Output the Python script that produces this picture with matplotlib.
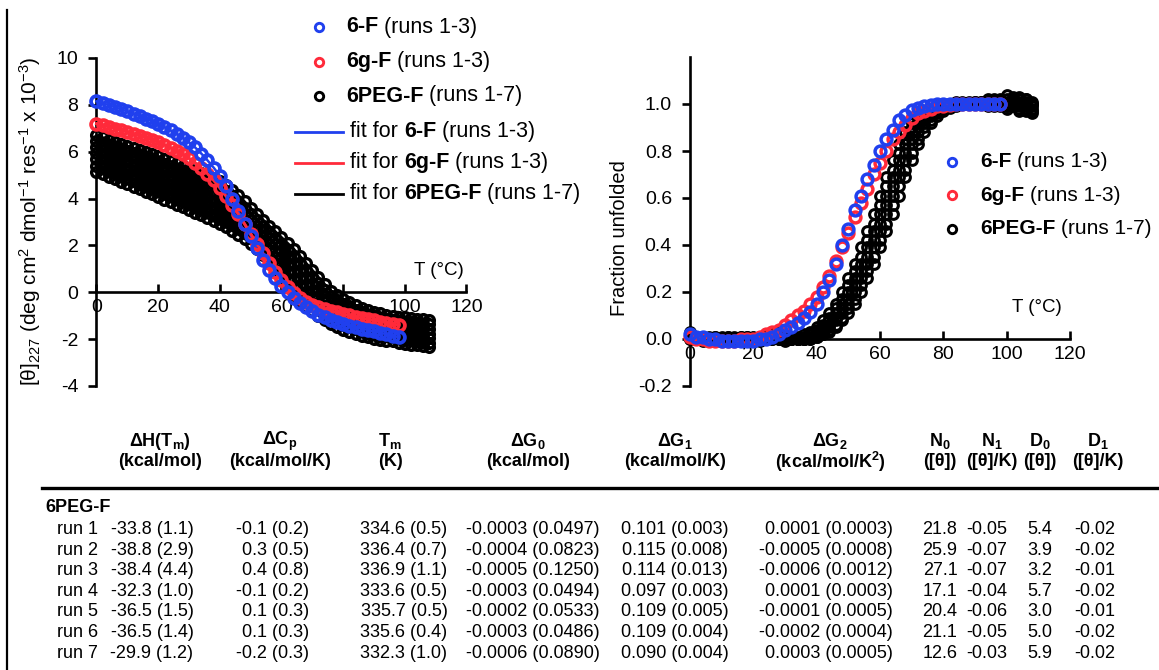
import matplotlib
matplotlib.use('Agg')
import matplotlib.pyplot as plt
from matplotlib.lines import Line2D
from matplotlib.offsetbox import AnnotationBbox, HPacker, TextArea

plt.rcParams['font.family'] = ['Liberation Sans', 'DejaVu Sans']
plt.rcParams['mathtext.fontset'] = 'custom'
plt.rcParams['mathtext.rm'] = 'Liberation Sans'
plt.rcParams['mathtext.it'] = 'Liberation Sans:italic'
plt.rcParams['mathtext.bf'] = 'Liberation Sans:bold'

# temperatures (degC) of the melts
temps_f = [0, 2, 4, 6, 8, 10, 12, 14, 16, 18, 20, 22, 24, 26, 28, 30, 32, 34, 36, 38,
           40, 42, 44, 46, 48, 50, 52, 54, 56, 58, 60, 62, 64, 66, 68, 70, 72, 74, 76, 78,
           80, 82, 84, 86, 88, 90, 92, 94, 96, 98]
temps_peg = temps_f + [100, 102, 104, 106, 108]

# mean residue ellipticity at 227 nm (x 10^-3)
theta_6f = [8.15, 8.07, 7.99, 7.90, 7.81, 7.72, 7.62, 7.52, 7.41, 7.30,
            7.18, 7.05, 6.91, 6.76, 6.59, 6.40, 6.18, 5.92, 5.63, 5.32,
            4.97, 4.52, 4.00, 3.47, 2.93, 2.42, 1.87, 1.39, 0.97, 0.60,
            0.28, 0.01, -0.24, -0.46, -0.64, -0.80, -0.95, -1.07, -1.17, -1.27,
            -1.35, -1.42, -1.49, -1.55, -1.61, -1.67, -1.73, -1.79, -1.85, -1.92]
theta_6gf = [7.20, 7.13, 7.06, 6.99, 6.92, 6.84, 6.76, 6.68, 6.59, 6.50,
             6.40, 6.29, 6.17, 6.04, 5.89, 5.72, 5.53, 5.31, 5.06, 4.78,
             4.46, 4.11, 3.73, 3.33, 2.92, 2.50, 2.08, 1.66, 1.25, 0.88,
             0.52, 0.22, -0.05, -0.24, -0.40, -0.53, -0.63, -0.71, -0.79, -0.86,
             -0.93, -0.99, -1.05, -1.10, -1.15, -1.20, -1.25, -1.30, -1.35, -1.40]
theta_peg_1 = [6.70, 6.61, 6.52, 6.43, 6.34, 6.25, 6.16, 6.07, 5.98, 5.89, 5.80, 5.70, 5.60, 5.50,
               5.40, 5.30, 5.19, 5.08, 4.97, 4.86, 4.75, 4.58, 4.38, 4.15, 3.88, 3.60, 3.35, 3.10,
               2.85, 2.60, 2.35, 2.10, 1.85, 1.55, 1.25, 0.95, 0.65, 0.35, 0.07, -0.12, -0.28, -0.42,
               -0.55, -0.66, -0.75, -0.83, -0.90, -0.95, -1.00, -1.04, -1.07, -1.10, -1.12, -1.15, -1.17]
theta_peg_2 = [6.44, 6.35, 6.25, 6.16, 6.07, 5.98, 5.88, 5.79, 5.70, 5.61, 5.51, 5.41, 5.31, 5.21,
               5.11, 5.00, 4.89, 4.78, 4.67, 4.56, 4.44, 4.28, 4.09, 3.87, 3.61, 3.35, 3.10, 2.85,
               2.59, 2.33, 2.06, 1.79, 1.53, 1.23, 0.94, 0.66, 0.38, 0.10, -0.17, -0.35, -0.50, -0.63,
               -0.75, -0.86, -0.95, -1.02, -1.09, -1.14, -1.18, -1.23, -1.26, -1.29, -1.31, -1.34, -1.37]
theta_peg_3 = [6.18, 6.09, 5.99, 5.89, 5.80, 5.70, 5.61, 5.51, 5.41, 5.32, 5.22, 5.12, 5.02, 4.91,
               4.81, 4.71, 4.59, 4.48, 4.37, 4.25, 4.13, 3.98, 3.79, 3.59, 3.35, 3.09, 2.85, 2.60,
               2.33, 2.05, 1.76, 1.47, 1.20, 0.91, 0.63, 0.36, 0.10, -0.16, -0.40, -0.57, -0.72, -0.84,
               -0.96, -1.06, -1.14, -1.21, -1.27, -1.32, -1.37, -1.41, -1.45, -1.48, -1.50, -1.54, -1.56]
theta_peg_4 = [5.93, 5.83, 5.72, 5.63, 5.53, 5.43, 5.33, 5.23, 5.13, 5.04, 4.94, 4.83, 4.73, 4.62,
               4.52, 4.41, 4.30, 4.18, 4.06, 3.95, 3.83, 3.67, 3.50, 3.31, 3.08, 2.84, 2.61, 2.35,
               2.08, 1.78, 1.47, 1.16, 0.88, 0.59, 0.32, 0.07, -0.18, -0.42, -0.64, -0.80, -0.94, -1.06,
               -1.16, -1.26, -1.34, -1.41, -1.46, -1.51, -1.55, -1.60, -1.64, -1.67, -1.70, -1.73, -1.76]
theta_peg_5 = [5.67, 5.56, 5.46, 5.36, 5.26, 5.16, 5.05, 4.95, 4.85, 4.75, 4.65, 4.54, 4.43, 4.33,
               4.22, 4.11, 4.00, 3.88, 3.76, 3.64, 3.52, 3.37, 3.21, 3.02, 2.81, 2.59, 2.36, 2.10,
               1.82, 1.50, 1.17, 0.85, 0.55, 0.26, 0.00, -0.23, -0.45, -0.67, -0.88, -1.03, -1.16, -1.27,
               -1.36, -1.45, -1.53, -1.60, -1.65, -1.69, -1.73, -1.78, -1.82, -1.85, -1.89, -1.92, -1.96]
theta_peg_6 = [5.41, 5.30, 5.19, 5.09, 4.99, 4.88, 4.78, 4.67, 4.56, 4.47, 4.36, 4.25, 4.14, 4.03,
               3.93, 3.82, 3.70, 3.58, 3.46, 3.34, 3.21, 3.07, 2.91, 2.74, 2.55, 2.33, 2.11, 1.85,
               1.56, 1.23, 0.88, 0.53, 0.23, -0.06, -0.31, -0.53, -0.73, -0.93, -1.11, -1.26, -1.38, -1.48,
               -1.57, -1.65, -1.73, -1.79, -1.83, -1.88, -1.92, -1.97, -2.01, -2.04, -2.08, -2.12, -2.15]
theta_peg_7 = [5.15, 5.04, 4.93, 4.82, 4.72, 4.61, 4.50, 4.39, 4.28, 4.18, 4.07, 3.96, 3.85, 3.74,
               3.63, 3.52, 3.40, 3.28, 3.16, 3.03, 2.90, 2.77, 2.62, 2.46, 2.28, 2.08, 1.86, 1.60,
               1.30, 0.95, 0.58, 0.22, -0.10, -0.38, -0.62, -0.82, -1.00, -1.18, -1.35, -1.48, -1.60, -1.69,
               -1.77, -1.85, -1.92, -1.98, -2.02, -2.06, -2.10, -2.15, -2.20, -2.23, -2.27, -2.31, -2.35]

# fraction unfolded
frac_6f = [0.02, 0.01, 0.01, 0.00, 0.00, -0.01, -0.01, -0.01, -0.01, -0.01,
           -0.01, 0.00, 0.00, 0.01, 0.02, 0.04, 0.05, 0.07, 0.09, 0.115,
           0.15, 0.20, 0.25, 0.32, 0.40, 0.47, 0.55, 0.61, 0.68, 0.74,
           0.80, 0.85, 0.89, 0.93, 0.955, 0.975, 0.985, 0.99, 0.995, 1.00,
           1.00, 1.00, 1.00, 1.00, 1.00, 1.00, 1.00, 1.00, 1.00, 1.00]
frac_6gf = [0.01, 0.00, 0.00, -0.01, -0.01, -0.01, -0.01, -0.01, 0.00, 0.00,
            0.00, 0.01, 0.02, 0.03, 0.04, 0.06, 0.08, 0.10, 0.12, 0.15,
            0.18, 0.22, 0.27, 0.33, 0.39, 0.45, 0.52, 0.58, 0.64, 0.70,
            0.75, 0.80, 0.85, 0.88, 0.91, 0.94, 0.96, 0.97, 0.98, 0.99,
            0.99, 0.995, 1.00, 1.00, 1.00, 1.00, 1.00, 1.00, 1.00, 1.00]
frac_peg_1 = [0.03, 0.01, 0.00, -0.01, 0.00, 0.01, 0.00, -0.01, 0.00, 0.01, 0.00, 0.01, 0.02, 0.00,
              0.01, 0.00, 0.01, 0.01, 0.02, 0.03, 0.05, 0.08, 0.11, 0.15, 0.20, 0.26, 0.32, 0.39,
              0.46, 0.53, 0.61, 0.69, 0.76, 0.83, 0.88, 0.92, 0.95, 0.97, 0.98, 0.99, 1.00, 1.00,
              1.01, 1.00, 1.00, 1.01, 1.00, 0.99, 1.01, 1.02, 0.99, 1.00, 1.03, 0.98, 1.00]
frac_peg_2 = [0.01, 0.00, 0.01, 0.00, -0.01, 0.00, 0.01, 0.00, -0.01, 0.00, 0.01, 0.00, 0.01, 0.03,
              0.01, 0.00, 0.00, 0.00, 0.01, 0.02, 0.04, 0.06, 0.09, 0.13, 0.17, 0.23, 0.29, 0.35,
              0.42, 0.49, 0.57, 0.65, 0.72, 0.79, 0.85, 0.90, 0.93, 0.96, 0.98, 0.99, 1.00, 1.00,
              1.00, 1.01, 1.00, 1.00, 1.01, 1.02, 1.00, 0.99, 1.04, 1.01, 0.99, 1.02, 0.97]
frac_peg_3 = [0.02, 0.01, 0.00, 0.00, 0.01, -0.01, 0.00, 0.01, 0.00, 0.00, -0.01, 0.01, 0.02, 0.01,
              0.00, -0.01, 0.00, 0.00, 0.01, 0.02, 0.03, 0.05, 0.08, 0.11, 0.15, 0.20, 0.26, 0.32,
              0.39, 0.46, 0.53, 0.61, 0.69, 0.76, 0.83, 0.88, 0.92, 0.95, 0.97, 0.98, 0.99, 1.00,
              1.00, 1.00, 1.01, 1.00, 1.00, 1.01, 0.99, 1.01, 1.00, 1.03, 0.98, 1.01, 0.99]
frac_peg_4 = [0.00, 0.01, 0.00, -0.01, 0.00, 0.00, 0.01, 0.00, -0.01, 0.00, 0.00, 0.01, 0.00, 0.02,
              0.03, 0.01, 0.00, 0.00, 0.00, 0.01, 0.02, 0.04, 0.06, 0.09, 0.13, 0.17, 0.23, 0.29,
              0.35, 0.42, 0.49, 0.57, 0.65, 0.72, 0.79, 0.85, 0.90, 0.93, 0.96, 0.98, 0.99, 1.00,
              1.00, 1.00, 1.00, 1.01, 1.00, 1.00, 1.02, 1.00, 0.98, 1.02, 1.00, 0.97, 1.01]
frac_peg_5 = [0.01, 0.00, -0.01, 0.00, 0.01, 0.00, -0.01, 0.00, 0.01, 0.00, 0.00, -0.01, 0.00, 0.01,
              0.02, 0.01, 0.00, 0.00, 0.00, 0.01, 0.02, 0.03, 0.05, 0.08, 0.11, 0.15, 0.20, 0.26,
              0.32, 0.39, 0.46, 0.53, 0.61, 0.69, 0.76, 0.83, 0.88, 0.92, 0.95, 0.97, 0.985, 0.99,
              1.00, 1.00, 1.00, 1.00, 1.01, 1.00, 1.00, 1.01, 1.02, 0.99, 1.01, 1.00, 0.98]
frac_peg_6 = [0.00, 0.00, 0.01, 0.00, 0.00, -0.01, 0.00, 0.00, 0.01, 0.00, -0.01, 0.00, 0.00, 0.01,
              0.00, 0.00, 0.00, 0.00, 0.00, 0.00, 0.01, 0.02, 0.04, 0.06, 0.09, 0.13, 0.17, 0.23,
              0.29, 0.35, 0.42, 0.49, 0.57, 0.65, 0.72, 0.79, 0.85, 0.90, 0.93, 0.96, 0.98, 0.99,
              1.00, 1.00, 1.00, 1.00, 1.00, 1.01, 1.00, 1.00, 1.01, 1.00, 0.97, 1.02, 1.00]
frac_peg_7 = [0.01, 0.00, 0.00, 0.01, 0.00, 0.00, -0.01, 0.00, 0.00, 0.01, 0.00, 0.00, 0.01, 0.00,
              0.00, 0.01, 0.00, 0.00, 0.00, 0.00, 0.01, 0.02, 0.03, 0.05, 0.08, 0.11, 0.15, 0.20,
              0.26, 0.32, 0.39, 0.46, 0.53, 0.61, 0.69, 0.76, 0.83, 0.88, 0.92, 0.95, 0.97, 0.985,
              0.99, 1.00, 1.00, 1.00, 1.00, 1.00, 1.01, 1.00, 0.99, 1.01, 1.02, 0.99, 0.96]

theta_peg = [theta_peg_1, theta_peg_2, theta_peg_3, theta_peg_4, theta_peg_5, theta_peg_6, theta_peg_7]
frac_peg = [frac_peg_1, frac_peg_2, frac_peg_3, frac_peg_4, frac_peg_5, frac_peg_6, frac_peg_7]

# fit parameters table, 6PEG-F
run_labels = ['run 1', 'run 2', 'run 3', 'run 4', 'run 5', 'run 6', 'run 7']
dH = ['-33.8 (1.1)', '-38.8 (2.9)', '-38.4 (4.4)', '-32.3 (1.0)', '-36.5 (1.5)', '-36.5 (1.4)', '-29.9 (1.2)']
dCp = ['-0.1 (0.2)', '0.3 (0.5)', '0.4 (0.8)', '-0.1 (0.2)', '0.1 (0.3)', '0.1 (0.3)', '-0.2 (0.3)']
Tm = ['334.6 (0.5)', '336.4 (0.7)', '336.9 (1.1)', '333.6 (0.5)', '335.7 (0.5)', '335.6 (0.4)', '332.3 (1.0)']
dG0 = ['-0.0003 (0.0497)', '-0.0004 (0.0823)', '-0.0005 (0.1250)', '-0.0003 (0.0494)',
       '-0.0002 (0.0533)', '-0.0003 (0.0486)', '-0.0006 (0.0890)']
dG1 = ['0.101 (0.003)', '0.115 (0.008)', '0.114 (0.013)', '0.097 (0.003)', '0.109 (0.005)',
       '0.109 (0.004)', '0.090 (0.004)']
dG2 = ['0.0001 (0.0003)', '-0.0005 (0.0008)', '-0.0006 (0.0012)', '0.0001 (0.0003)',
       '-0.0001 (0.0005)', '-0.0002 (0.0004)', '0.0003 (0.0005)']
N0 = ['21.8', '25.9', '27.1', '17.1', '20.4', '21.1', '12.6']
N1 = ['-0.05', '-0.07', '-0.07', '-0.04', '-0.06', '-0.05', '-0.03']
D0 = ['5.4', '3.9', '3.2', '5.7', '3.0', '5.0', '5.9']
D1 = ['-0.02', '-0.02', '-0.01', '-0.02', '-0.01', '-0.02', '-0.02']
headers_top = [r'ΔH(T$_\mathbf{m}$)', r'ΔC$_\mathbf{p}$', r'T$_\mathbf{m}$', r'ΔG$_\mathbf{0}$',
               r'ΔG$_\mathbf{1}$', r'ΔG$_\mathbf{2}$', r'N$_\mathbf{0}$', r'N$_\mathbf{1}$',
               r'D$_\mathbf{0}$', r'D$_\mathbf{1}$']
headers_units = ['(kcal/mol)', '(kcal/mol/K)', '(K)', '(kcal/mol)', '(kcal/mol/K)',
                 r'(kcal/mol/K$^\mathbf{2}$)', '([θ])', '([θ]/K)', '([θ])', '([θ]/K)']

BLUE = '#2040ee'
RED = '#ff2a3a'
W, H = 1159, 670


def fig_xy(x, y):
    # pixel position (from top-left) to figure fraction
    return x / W, 1 - y / H


fig = plt.figure(figsize=(W / 100, H / 100), dpi=100)

# page border on the left
fig.add_artist(Line2D([7 / W, 7 / W], [0, 1 - 10 / H], transform=fig.transFigure, color='black', lw=1.6))


def setup_axes(ax, ylim, yticks, ylabels):
    ax.set_xlim(0, 120)
    ax.set_ylim(*ylim)
    ax.patch.set_visible(False)
    ax.spines['top'].set_visible(False)
    ax.spines['right'].set_visible(False)
    ax.spines['bottom'].set_position(('data', 0))
    for s in ('left', 'bottom'):
        ax.spines[s].set_linewidth(1.9)
    ax.set_xticks([0, 20, 40, 60, 80, 100, 120])
    ax.set_yticks(yticks)
    ax.set_yticklabels(ylabels)
    ax.tick_params(axis='x', direction='in', length=6, width=1.9, pad=5, labelsize=14)
    ax.tick_params(axis='y', direction='out', length=6, width=1.9, pad=7, labelsize=14)


def circles(ax, x, y, color, ms, mew, z):
    ax.plot(x, y, ls='none', marker='o', ms=ms, mfc='none', mec=color, mew=mew,
            clip_on=False, zorder=z)


# ---- left panel: ellipticity ----
ax1 = fig.add_axes([96.5 / W, 1 - 386 / H, 370 / W, 328 / H])
setup_axes(ax1, (-4, 10), [-4, -2, 0, 2, 4, 6, 8, 10], ['-4', '-2', '0', '2', '4', '6', '8', '10'])

for run in theta_peg:
    circles(ax1, temps_peg, run, 'black', 7.0, 2.4, 3)
    ax1.plot(temps_peg, run, color='black', lw=1.8, clip_on=False, zorder=3.2)
ax1.plot(temps_f, theta_6f, color=BLUE, lw=1.8, clip_on=False, zorder=3.5)
ax1.plot(temps_f, theta_6gf, color=RED, lw=2.2, clip_on=False, zorder=3.6)
circles(ax1, temps_f, theta_6gf, RED, 7.8, 2.7, 4)
circles(ax1, temps_f, theta_6f, BLUE, 7.8, 2.7, 5)
ax1.text(111, 0.95, 'T (°C)', fontsize=13.5, ha='center', va='center')
fig.text(30 / W, 1 - 221 / H, r'[θ]$_{227}$ (deg cm$^2$ dmol$^{-1}$ res$^{-1}$ x 10$^{-3}$)',
         rotation=90, ha='center', va='center', fontsize=15)

# ---- right panel: fraction unfolded ----
ax2 = fig.add_axes([690 / W, 1 - 386 / H, 380 / W, 329 / H])
setup_axes(ax2, (-0.2, 1.2), [-0.2, 0.0, 0.2, 0.4, 0.6, 0.8, 1.0],
           ['-0.2', '0.0', '0.2', '0.4', '0.6', '0.8', '1.0'])
for run in frac_peg:
    circles(ax2, temps_peg, run, 'black', 7.0, 2.2, 3)
circles(ax2, temps_f, frac_6gf, RED, 7.8, 2.5, 4)
circles(ax2, temps_f, frac_6f, BLUE, 7.8, 2.5, 5)
ax2.text(109.4, 0.132, 'T (°C)', fontsize=13.5, ha='center', va='center')
fig.text(619 / W, 1 - 238 / H, 'Fraction unfolded', rotation=90, ha='center', va='center', fontsize=14.5)


# ---- legends ----
def legend_label(x, y, parts, size=15.5):
    areas = [TextArea(t, textprops=dict(fontsize=size, fontweight=wt)) for t, wt in parts]
    box = HPacker(children=areas, align='baseline', pad=0, sep=4.3)
    ab = AnnotationBbox(box, fig_xy(x, y), xycoords='figure fraction', box_alignment=(0, 0.5),
                        frameon=False, pad=0)
    fig.add_artist(ab)


def marker_key(x, y, color):
    fx, fy = fig_xy(x, y)
    fig.add_artist(Line2D([fx], [fy], transform=fig.transFigure, ls='none', marker='o', ms=6,
                          mfc='none', mec=color, mew=2.1))


def line_key(x0, x1, y, color):
    fx0, fy = fig_xy(x0, y)
    fx1, _ = fig_xy(x1, y)
    fig.add_artist(Line2D([fx0, fx1], [fy, fy], transform=fig.transFigure, color=color, lw=2.0))


names = [('6-F', '(runs 1-3)', BLUE), ('6g-F', '(runs 1-3)', RED), ('6PEG-F', '(runs 1-7)', 'black')]
for i, (name, runs, col) in enumerate(names):
    y = 27 + 34.5 * i
    marker_key(319, y, col)
    legend_label(346, y, [(name, 'bold'), (runs, 'normal')])
for i, (name, runs, col) in enumerate(names):
    y = 131.5 + 31 * i
    line_key(295, 343, y, col)
    legend_label(350, y, [('fit for', 'normal'), (name, 'bold'), (runs, 'normal')])
for i, (name, runs, col) in enumerate(names):
    y = 161.5 + 33.7 * i
    marker_key(952, y, col)
    legend_label(980, y, [(name, 'bold'), (runs, 'normal')], size=15)

# ---- parameter table ----
TS = 13
head_x = [160, 280, 390, 528, 675, 830, 940, 992, 1040, 1098]
for x, top, unit in zip(head_x, headers_top, headers_units):
    fig.text(*fig_xy(x, 441), top, ha='center', va='center', fontsize=TS, fontweight='bold')
    fig.text(*fig_xy(x, 462), unit, ha='center', va='center', fontsize=TS, fontweight='bold')

fig.add_artist(Line2D([42 / W, 1], [1 - 488 / H, 1 - 488 / H], transform=fig.transFigure,
                      color='black', lw=2.4))
fig.text(*fig_xy(45, 508), '6PEG-F', ha='left', va='center', fontsize=TS, fontweight='bold')

columns = [(dH, 152, 'center'), (dCp, 309, 'right'), (Tm, 404, 'center'), (dG0, 533, 'center'),
           (dG1, 675, 'center'), (dG2, 893, 'right'), (N0, 940, 'center'), (N1, 987, 'center'),
           (D0, 1040, 'center'), (D1, 1095, 'center')]
for i, lab in enumerate(run_labels):
    y = 529.5 + 20.6 * i
    fig.text(*fig_xy(57, y), lab, ha='left', va='center', fontsize=TS)
    for vals, x, ha in columns:
        fig.text(*fig_xy(x, y), vals[i], ha=ha, va='center', fontsize=TS)

fig.savefig('out.png', dpi=100)
